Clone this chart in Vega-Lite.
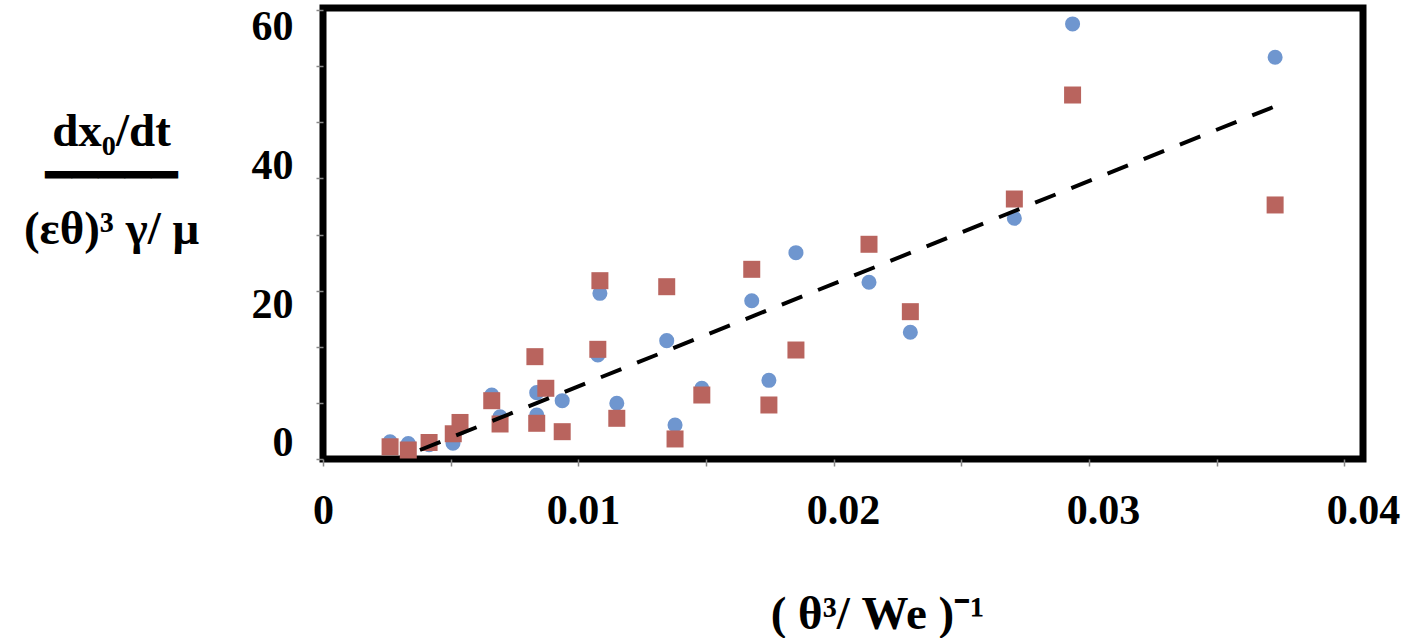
{
  "$schema": "https://vega.github.io/schema/vega-lite/v6.json",
  "width": 1040,
  "height": 451,
  "autosize": {"type": "none"},
  "padding": {"left": 323, "top": 8, "right": 40, "bottom": 179},
  "background": "white",
  "config": {
    "view": {"stroke": "black", "strokeWidth": 7},
    "axis": {
      "domain": false,
      "grid": false,
      "labelFont": "Liberation Serif",
      "labelFontWeight": "bold",
      "labelFontSize": 42,
      "labelColor": "black",
      "titleFont": "Liberation Serif",
      "titleFontWeight": "bold",
      "titleFontSize": 47,
      "titleColor": "black",
      "tickColor": "#888888",
      "tickSize": 7,
      "tickWidth": 1.5
    }
  },
  "datasets": {
    "points": [
      {"x": 0.00258, "y": 0.17, "series": "A"},
      {"x": 0.00328, "y": -0.07, "series": "A"},
      {"x": 0.00408, "y": -0.26, "series": "A"},
      {"x": 0.005, "y": -0.03, "series": "A"},
      {"x": 0.00527, "y": 2.16, "series": "A"},
      {"x": 0.00649, "y": 6.92, "series": "A"},
      {"x": 0.00681, "y": 3.79, "series": "A"},
      {"x": 0.00822, "y": 7.26, "series": "A"},
      {"x": 0.00822, "y": 4.04, "series": "A"},
      {"x": 0.0092, "y": 6.1, "series": "A"},
      {"x": 0.01065, "y": 21.59, "series": "A"},
      {"x": 0.01057, "y": 12.69, "series": "A"},
      {"x": 0.0113, "y": 5.73, "series": "A"},
      {"x": 0.01322, "y": 14.76, "series": "A"},
      {"x": 0.01354, "y": 2.6, "series": "A"},
      {"x": 0.01457, "y": 7.89, "series": "A"},
      {"x": 0.01649, "y": 20.52, "series": "A"},
      {"x": 0.01715, "y": 9.04, "series": "A"},
      {"x": 0.01819, "y": 27.45, "series": "A"},
      {"x": 0.021, "y": 23.18, "series": "A"},
      {"x": 0.02259, "y": 15.97, "series": "A"},
      {"x": 0.02659, "y": 32.41, "series": "A"},
      {"x": 0.02883, "y": 60.44, "series": "A"},
      {"x": 0.03662, "y": 55.63, "series": "A"},
      {"x": 0.00258, "y": -0.55, "series": "B"},
      {"x": 0.00328, "y": -1.01, "series": "B"},
      {"x": 0.00408, "y": 0.07, "series": "B"},
      {"x": 0.00501, "y": 1.33, "series": "B"},
      {"x": 0.00527, "y": 2.96, "series": "B"},
      {"x": 0.00649, "y": 6.1, "series": "B"},
      {"x": 0.00681, "y": 2.74, "series": "B"},
      {"x": 0.00857, "y": 7.89, "series": "B"},
      {"x": 0.00822, "y": 2.84, "series": "B"},
      {"x": 0.00815, "y": 12.45, "series": "B"},
      {"x": 0.0092, "y": 1.63, "series": "B"},
      {"x": 0.01065, "y": 23.41, "series": "B"},
      {"x": 0.01057, "y": 13.51, "series": "B"},
      {"x": 0.0113, "y": 3.56, "series": "B"},
      {"x": 0.01322, "y": 22.54, "series": "B"},
      {"x": 0.01354, "y": 0.58, "series": "B"},
      {"x": 0.01457, "y": 6.92, "series": "B"},
      {"x": 0.01649, "y": 25.05, "series": "B"},
      {"x": 0.01715, "y": 5.48, "series": "B"},
      {"x": 0.01819, "y": 13.41, "series": "B"},
      {"x": 0.021, "y": 28.66, "series": "B"},
      {"x": 0.02259, "y": 18.94, "series": "B"},
      {"x": 0.02659, "y": 35.19, "series": "B"},
      {"x": 0.02883, "y": 50.19, "series": "B"},
      {"x": 0.03662, "y": 34.33, "series": "B"}
    ],
    "fit": [
      {"x": 0.00373, "y": -1.01},
      {"x": 0.03696, "y": 49.08}
    ]
  },
  "layer": [
    {
      "data": {"name": "points"},
      "mark": {"type": "point", "filled": true, "opacity": 1, "strokeWidth": 0},
      "encoding": {
        "x": {
          "field": "x",
          "type": "quantitative",
          "scale": {"domain": [0, 0.04], "nice": false, "zero": false},
          "axis": {
            "values": [0, 0.00491, 0.00982, 0.01473, 0.01964, 0.02455, 0.02946, 0.03437, 0.03928, 0.01, 0.02, 0.03, 0.04],
            "labelExpr": "abs(datum.value*100 - round(datum.value*100)) < 1e-6 ? (datum.value == 0 ? '0' : format(datum.value, '.2f')) : ''",
            "tickOpacity": {"condition": {"test": "datum.value > 0.001 && abs(datum.value*100 - round(datum.value*100)) < 1e-6", "value": 0}, "value": 1},
            "labelBaseline": "top",
            "labelPadding": 24,
            "labelOverlap": false,
            "labelFlush": false,
            "title": "( θ³/ We )⁻¹",
            "titleAlign": "center",
            "titleBaseline": "alphabetic",
            "titleX": 554,
            "titleY": 169
          }
        },
        "y": {
          "field": "y",
          "type": "quantitative",
          "scale": {"domain": [-2.31, 62.74], "nice": false, "zero": false},
          "axis": {
            "orient": "left",
            "values": [0, 20, 40, 60, -2.31, 5.785, 13.88, 21.975, 30.07, 38.165, 46.26, 54.355, 62.45],
            "format": "d",
            "labelExpr": "datum.value % 20 == 0 ? datum.label : ''",
            "tickOpacity": {"condition": {"test": "datum.value % 20 == 0", "value": 0}, "value": 1},
            "labelPadding": 23,
            "labelOverlap": false,
            "labelFlush": false,
            "title": ["dx₀/dt", "(εθ)³ γ/ μ"],
            "titleAngle": 0,
            "titleAlign": "center",
            "titleBaseline": "alphabetic",
            "titleLineHeight": 98,
            "titleX": -212,
            "titleY": 137
          }
        },
        "color": {"field": "series", "type": "nominal", "scale": {"domain": ["A", "B"], "range": ["#6f96cf", "#b9645e"]}, "legend": null},
        "shape": {"field": "series", "type": "nominal", "scale": {"domain": ["A", "B"], "range": ["circle", "square"]}, "legend": null},
        "size": {"field": "series", "type": "ordinal", "scale": {"domain": ["A", "B"], "range": [227, 289]}, "legend": null}
      }
    },
    {
      "data": {"name": "fit"},
      "mark": {"type": "line", "color": "black", "strokeWidth": 4, "strokeDash": [22, 17]},
      "encoding": {
        "x": {"field": "x", "type": "quantitative"},
        "y": {
          "field": "y",
          "type": "quantitative",
          "axis": {
            "orient": "left",
            "labels": false,
            "ticks": false,
            "domain": false,
            "title": "━━━━━",
            "titleFont": "DejaVu Sans",
            "titleFontWeight": "normal",
            "titleFontSize": 44,
            "titleAngle": 0,
            "titleAlign": "center",
            "titleBaseline": "alphabetic",
            "titleX": -212,
            "titleY": 181
          }
        }
      }
    }
  ],
  "resolve": {"axis": {"y": "independent"}}
}
